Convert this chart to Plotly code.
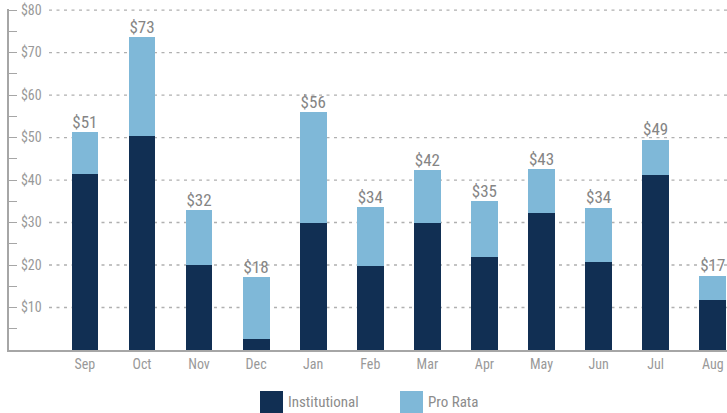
import plotly.graph_objects as go

months = ["Sep", "Oct", "Nov", "Dec", "Jan", "Feb", "Mar", "Apr", "May", "Jun", "Jul", "Aug"]
institutional = [41.5, 50.3, 20.0, 2.6, 29.9, 19.8, 29.9, 21.9, 32.3, 20.8, 41.2, 11.8]
pro_rata = [9.8, 23.3, 13.0, 14.6, 26.0, 13.9, 12.5, 13.2, 10.3, 12.7, 8.3, 5.7]
total_labels = ["$51", "$73", "$32", "$18", "$56", "$34", "$42", "$35", "$43", "$34", "$49", "$17"]
y_ticks = [10, 20, 30, 40, 50, 60, 70, 80]
y_tick_text = ["$10", "$20", "$30", "$40", "$50", "$60", "$70", "$80"]

NAVY = "#112f53"
LIGHT = "#7fb8d8"
GRAY_TXT = "#8c8c8c"
AXIS = "#a6a6a6"
FONT = "Roboto Condensed, Liberation Sans Narrow, DejaVu Sans Condensed, Roboto, sans-serif"

W, H = 727, 413
ML, MR, MT, MB = 9, 0, 9, 63
PW, PH = W - ML - MR, H - MT - MB

def px_x(px):  # window pixel -> paper x
    return (px - ML) / PW

def px_y(py):  # window pixel -> paper y
    return (H - MB - py) / PH

totals = [a + b for a, b in zip(institutional, pro_rata)]
xs = list(range(len(months)))

fig = go.Figure()
fig.add_trace(go.Bar(x=xs, y=institutional, name="Institutional", marker_color=NAVY,
                     marker_line_width=0, width=0.47, showlegend=False))
fig.add_trace(go.Bar(x=xs, y=pro_rata, name="Pro Rata", marker_color=LIGHT,
                     marker_line_width=0, width=0.47, showlegend=False))
fig.add_trace(go.Scatter(x=xs, y=totals, mode="text", text=total_labels,
                         textposition="top center", showlegend=False, cliponaxis=False,
                         textfont=dict(family=FONT, size=17, color="#858585")))

shapes = []
for v in y_ticks:
    shapes.append(dict(type="line", xref="paper", yref="y", x0=px_x(49), x1=1.0, y0=v, y1=v,
                       line=dict(color="#b0b0b0", width=1.3, dash="3px,4.5px"), layer="below"))

legend_items = [("Institutional", NAVY, 260), ("Pro Rata", LIGHT, 400)]
annotations = []
for name, col, x0 in legend_items:
    shapes.append(dict(type="rect", xref="paper", yref="paper", x0=px_x(x0), x1=px_x(x0 + 23),
                       y0=px_y(413), y1=px_y(391), fillcolor=col, line_width=0))
    annotations.append(dict(xref="paper", yref="paper", x=px_x(x0 + 26), y=px_y(402),
                            text=name, showarrow=False, xanchor="left", yanchor="middle",
                            font=dict(family=FONT, size=15, color=GRAY_TXT)))

fig.update_layout(
    width=W, height=H, margin=dict(l=ML, r=MR, t=MT, b=MB),
    plot_bgcolor="white", paper_bgcolor="white",
    barmode="stack", shapes=shapes, annotations=annotations,
    xaxis=dict(range=[-1.33, 11.25], tickvals=xs, ticktext=months, showgrid=False,
               showline=True, linecolor=AXIS, linewidth=1.5, ticks="", zeroline=False,
               tickfont=dict(family=FONT, size=14, color="#999999")),
    yaxis=dict(range=[0, 80.25], tickvals=y_ticks, ticktext=y_tick_text, showgrid=False,
               showline=True, linecolor=AXIS, linewidth=1.5, zeroline=False,
               ticks="inside", ticklen=8, tickcolor=AXIS, tickwidth=1.3,
               ticklabelposition="inside", ticklabelstandoff=4, ticklabeloverflow="allow",
               minor=dict(ticks="inside", dtick=5, ticklen=8, tickcolor=AXIS, tickwidth=1.3, showgrid=False),
               tickfont=dict(family=FONT, size=14, color="#999999")),
    font=dict(family=FONT),
)

fig.write_html("out.html", config={"displayModeBar": False},
               post_script="document.body.style.margin='0';document.body.style.overflow='hidden';")
